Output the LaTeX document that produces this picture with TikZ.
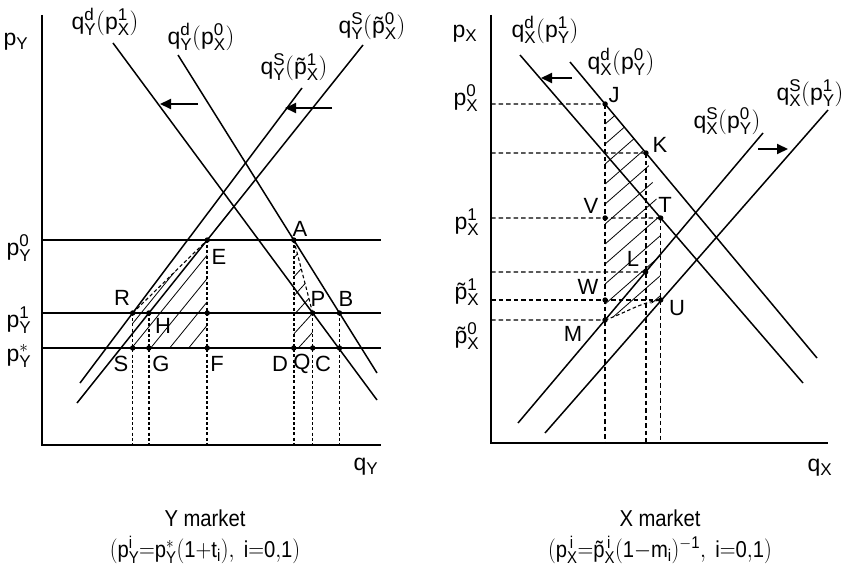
\documentclass[tikz,border=0pt]{standalone}
\usepackage{fontspec}
\setmainfont{Liberation Sans}
\usetikzlibrary{calc,arrows.meta}
\DeclareMathSizes{23}{23}{17}{13}
\newcommand{\tpp}{\mbox{\~{p}}}
\begin{document}
\begin{tikzpicture}[x=1pt,y=-1pt,
  curve/.style={line width=1.5pt},
  axis/.style={line width=2pt},
  vdots/.style={line width=1.6pt,dash pattern=on 3pt off 2.2pt},
  hdash/.style={line width=1.4pt,dash pattern=on 4.5pt off 3pt},
  bdash/.style={line width=1.1pt,dash pattern=on 3.5pt off 2.5pt},
  hatch/.style={line width=0.8pt},
  lab/.style={font=\fontsize{23}{26}\selectfont,inner sep=0pt},
  plab/.style={font=\fontsize{22}{24}\selectfont,inner sep=0pt},
  arr/.style={line width=2pt,-{Triangle[length=11pt,width=10pt]}}
]
\useasboundingbox (0,0) rectangle (854,567);
% ================= LEFT PANEL =================
\coordinate (YT) at (42,15);
\coordinate (O1) at (42,445);
\coordinate (XE1) at (381,445);
\coordinate (P0L) at (42,240); \coordinate (P0R) at (381,240);
\coordinate (P1L) at (42,313); \coordinate (P1R) at (381,313);
\coordinate (PsL) at (42,348); \coordinate (PsR) at (381,348);
\coordinate (D1a) at (113,43); \coordinate (D1b) at (377,400);
\coordinate (D0a) at (178,55); \coordinate (D0b) at (377,373);
\coordinate (S1a) at (302,88); \coordinate (S1b) at (80,383);
\coordinate (S0a) at (363,45); \coordinate (S0b) at (77,403);
\coordinate (E) at (intersection of S0a--S0b and P0L--P0R);
\coordinate (H) at (intersection of S0a--S0b and P1L--P1R);
\coordinate (R) at (intersection of S1a--S1b and P1L--P1R);
\coordinate (A) at (intersection of D0a--D0b and P0L--P0R);
\coordinate (B) at (intersection of D0a--D0b and P1L--P1R);
\coordinate (P) at (intersection of D1a--D1b and P1L--P1R);
\coordinate (F) at (E |- PsL);
\coordinate (G) at (H |- PsL);
\coordinate (S) at (R |- PsL);
\coordinate (D) at (A |- PsL);
\coordinate (Q) at (P |- PsL);
\coordinate (C) at (B |- PsL);
\coordinate (EF) at (E |- P1L);
% hatching
\begin{scope}
  \clip (R) -- (E) -- (F) -- (S) -- cycle;
  \foreach \k in {0,...,9} \draw[hatch] ($(S)+(\k*19-20,0)$) -- ++(130,-160);
\end{scope}
\begin{scope}
  \clip (A) -- (P) -- (Q) -- (D) -- cycle;
  \foreach \k in {0,...,6} \draw[hatch] ($(D)+(0,\k*-19+5)$) -- ++(60,-66);
\end{scope}
% axes and lines
\draw[axis] (YT) -- (O1) -- (XE1);
\draw[curve] (P0L) -- (P0R);
\draw[curve] (P1L) -- (P1R);
\draw[curve] (PsL) -- (PsR);
\draw[curve] (D1a) -- (D1b);
\draw[curve] (D0a) -- (D0b);
\draw[curve] (S1a) -- (S1b);
\draw[curve] (S0a) -- (S0b);
% dashed / dotted
\draw[bdash] (R) -- (E);
\draw[bdash] (A) -- (P);
\draw[vdots] (E) -- (E |- O1);
\draw[vdots] (R) -- (R |- O1);
\draw[vdots] (H) -- (H |- O1);
\draw[vdots] (A) -- (A |- O1);
\draw[vdots] (P) -- (P |- O1);
\draw[vdots] (B) -- (B |- O1);
% dots
\foreach \p in {E,H,R,A,B,P,F,G,S,D,Q,C,EF} \fill (\p) circle (2.7pt);
% arrows
\coordinate (a1s) at (198,104); \coordinate (a1e) at (160,104);
\coordinate (a2s) at (332,108); \coordinate (a2e) at (285,108);
\draw[arr] (a1s) -- (a1e);
\draw[arr] (a2s) -- (a2e);
% labels
\node[lab] (lpy) at (16,42) {$\mathrm{p_Y}$};
\node[lab] (ld1) at (105,22) {$\mathrm{q^d_Y(p^1_X)}$};
\node[lab] (ld0) at (201,37) {$\mathrm{q^d_Y(p^0_X)}$};
\node[lab] (ls1) at (294,67) {$\mathrm{q^S_Y(}\tpp\mathrm{^1_X)}$};
\node[lab] (ls0) at (372,26) {$\mathrm{q^S_Y(}\tpp\mathrm{^0_X)}$};
\node[lab] (lp0) at (19,248) {$\mathrm{p^0_Y}$};
\node[lab] (lp1) at (19,320) {$\mathrm{p^1_Y}$};
\node[lab] (lps) at (19,356) {$\mathrm{p^*_Y}$};
\node[lab] (lqy) at (366,467) {$\mathrm{q_Y}$};
\node[lab] (tY) at (205,518) {\scalebox{0.88}[1]{Y market}};
\node[lab] (fY) at (205,550) {\scalebox{0.88}[1]{$\mathrm{(p^i_Y{=}p^*_Y(1{+}t_i),\ i{=}0{,}1)}$}};
\node[plab] (nA) at (300,229) {A};
\node[plab] (nE) at (219,257) {E};
\node[plab] (nR) at (122,298) {R};
\node[plab] (nH) at (163,326) {H};
\node[plab] (nP) at (318,299) {P};
\node[plab] (nB) at (346,299) {B};
\node[plab] (nS) at (121,364) {S};
\node[plab] (nG) at (161,364) {G};
\node[plab] (nF) at (217,364) {F};
\node[plab] (nD) at (280,364) {D};
\node[plab] (nQ) at (302,364) {Q};
\node[plab] (nC) at (323,364) {C};
% ================= RIGHT PANEL =================
\coordinate (YT2) at (491,15);
\coordinate (O2) at (491,443);
\coordinate (XE2) at (828,443);
\coordinate (LJ) at (491,104); \coordinate (RJ) at (850,104);
\coordinate (LK) at (491,153); \coordinate (RK) at (850,153);
\coordinate (LT) at (491,218); \coordinate (RT) at (850,218);
\coordinate (LL) at (491,272); \coordinate (RL) at (850,272);
\coordinate (LU) at (491,300);
\coordinate (LM) at (491,320); \coordinate (RM) at (850,320);
\coordinate (XD1a) at (520,55);  \coordinate (XD1b) at (803,383);
\coordinate (XD0a) at (570,62);  \coordinate (XD0b) at (817,358);
\coordinate (XS0a) at (763,133); \coordinate (XS0b) at (518,423);
\coordinate (XS1a) at (828,110); \coordinate (XS1b) at (545,433);
\coordinate (J) at (intersection of XD0a--XD0b and LJ--RJ);
\coordinate (K) at (intersection of XD0a--XD0b and LK--RK);
\coordinate (T) at (intersection of XD1a--XD1b and LT--RT);
\coordinate (L) at (intersection of XS0a--XS0b and LL--RL);
\coordinate (M) at (intersection of XS0a--XS0b and LM--RM);
\coordinate (U) at (T |- LU);
\coordinate (V) at (J |- LT);
\coordinate (W) at (J |- LU);
\begin{scope}
  \clip (J) -- (K) -- (T) -- (U) -- (M) -- cycle;
  \foreach \k in {0,...,14} \draw[hatch] ($(J)+(0,\k*20)$) -- ++(120,-105);
\end{scope}
\draw[axis] (YT2) -- (O2) -- (XE2);
\draw[curve] (XD1a) -- (XD1b);
\draw[curve] (XD0a) -- (XD0b);
\draw[curve] (XS0a) -- (XS0b);
\draw[curve] (XS1a) -- (XS1b);
\draw[hdash] (LJ) -- (J);
\draw[hdash] (LK) -- (K);
\draw[hdash] (LT) -- (T);
\draw[hdash] (LL) -- (L);
\draw[hdash] (LU) -- (U);
\draw[hdash] (LM) -- (M);
\draw[hdash] (J) -- (J |- O2);
\draw[hdash] (K) -- (K |- O2);
\draw[hdash] (T) -- (T |- O2);
\draw[bdash] (M) .. controls ($(M)+(25,-9)$) and ($(U)+(-22,3)$) .. (U);
\foreach \p in {J,K,T,L,M,U,V,W} \fill (\p) circle (2.7pt);
\coordinate (a3s) at (572,78); \coordinate (a3e) at (541,78);
\coordinate (a4s) at (758,149); \coordinate (a4e) at (788,149);
\draw[arr] (a3s) -- (a3e);
\draw[arr] (a4s) -- (a4e);
\node[lab] (lpx) at (465,34) {$\mathrm{p_X}$};
\node[lab] (rd1) at (545,30) {$\mathrm{q^d_X(p^1_Y)}$};
\node[lab] (rd0) at (621,62) {$\mathrm{q^d_X(p^0_Y)}$};
\node[lab] (rs0) at (727,121) {$\mathrm{q^S_X(p^0_Y)}$};
\node[lab] (rs1) at (810,93) {$\mathrm{q^S_X(p^1_Y)}$};
\node[lab] (rp0) at (466,98) {$\mathrm{p^0_X}$};
\node[lab] (rp1) at (467,222) {$\mathrm{p^1_X}$};
\node[lab] (rt1) at (467,292) {$\tpp\mathrm{^1_X}$};
\node[lab] (rt0) at (467,336) {$\tpp\mathrm{^0_X}$};
\node[lab] (lqx) at (820,468) {$\mathrm{q_X}$};
\node[lab] (tX) at (660,518) {\scalebox{0.88}[1]{X market}};
\node[lab] (fX) at (660,550) {\scalebox{0.88}[1]{$\mathrm{(p_X^{\,i}{=}}\tpp\mathrm{_X^{\,i}(1{-}m_i)^{-1},\ i{=}0{,}1)}$}};
\node[plab] (nJ) at (614,95) {J};
\node[plab] (nK) at (660,145) {K};
\node[plab] (nV) at (591,206) {V};
\node[plab] (nT) at (665,205) {T};
\node[plab] (nL) at (633,259) {L};
\node[plab] (nW) at (588,287) {W};
\node[plab] (nU) at (677,308) {U};
\node[plab] (nM) at (573,334) {M};
\end{tikzpicture}
\end{document}
